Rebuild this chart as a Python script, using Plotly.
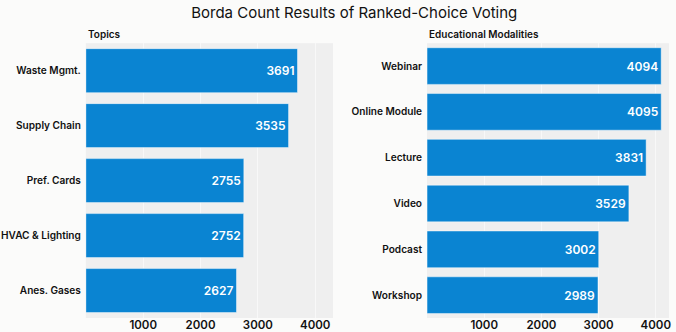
import plotly.graph_objects as go

topics = ["Waste Mgmt.", "Supply Chain", "Pref. Cards", "HVAC & Lighting", "Anes. Gases"]
topic_scores = [3691, 3535, 2755, 2752, 2627]

modalities = ["Webinar", "Online Module", "Lecture", "Video", "Podcast", "Workshop"]
modality_scores = [4094, 4095, 3831, 3529, 3002, 2989]

tick_vals = [1000, 2000, 3000, 4000]
tick_text = ["1000", "2000", "3000", "4000"]

BAR = "#0a84d2"
FONT = "Inter"

fig = go.Figure()
fig.add_trace(go.Bar(
    x=topic_scores, y=topics, orientation="h", xaxis="x", yaxis="y",
    marker=dict(color=BAR, line=dict(color="rgba(255,255,255,0.45)", width=1)),
    text=[str(v) for v in topic_scores], textposition="inside", insidetextanchor="end",
    textfont=dict(color="white", size=12, family=FONT, weight=600),
    hoverinfo="x+y", showlegend=False,
))
fig.add_trace(go.Bar(
    x=modality_scores, y=modalities, orientation="h", xaxis="x2", yaxis="y2",
    marker=dict(color=BAR, line=dict(color="rgba(255,255,255,0.45)", width=1)),
    text=[str(v) for v in modality_scores], textposition="inside", insidetextanchor="end",
    textfont=dict(color="white", size=12, family=FONT, weight=600),
    hoverinfo="x+y", showlegend=False,
))

ydom = [0.042, 0.870]
axis_common = dict(
    tickvals=tick_vals, ticktext=tick_text, showgrid=True, gridcolor="#f8f8f8",
    gridwidth=1, zeroline=False, showline=False, ticks="", automargin=False,
    ticklabelstandoff=-2,
    tickfont=dict(size=11.5, family=FONT, color="#111", weight=600),
)
yaxis_common = dict(
    autorange="reversed", showgrid=False, zeroline=False, showline=False,
    ticks="", automargin=False, ticklabelstandoff=4,
    tickfont=dict(size=10.1, family=FONT, color="#111", weight=600),
)

fig.update_layout(
    width=676, height=332,
    margin=dict(l=0, r=0, t=0, b=0),
    paper_bgcolor="#fbfbfa", plot_bgcolor="#efefef",
    bargap=0.2,
    font=dict(family=FONT, color="#111"),
    title=dict(text="Borda Count Results of Ranked-Choice Voting", x=0.524, xanchor="center",
               y=0.963, yanchor="middle", yref="container",
               font=dict(size=15, family=FONT, color="#111")),
    xaxis=dict(domain=[0.127, 0.4926], range=[0, 4310], anchor="y", **axis_common),
    yaxis=dict(domain=ydom, anchor="x", **yaxis_common),
    xaxis2=dict(domain=[0.6317, 0.9896], range=[0, 4230], anchor="y2", **axis_common),
    yaxis2=dict(domain=ydom, anchor="x2", **yaxis_common),
    annotations=[
        dict(text="Topics", x=0.127, y=0.872, xref="paper", yref="paper",
             xanchor="left", yanchor="bottom", showarrow=False,
             font=dict(size=10, family=FONT, color="#111", weight=600)),
        dict(text="Educational Modalities", x=0.6317, y=0.872, xref="paper", yref="paper",
             xanchor="left", yanchor="bottom", showarrow=False,
             font=dict(size=10, family=FONT, color="#111", weight=600)),
    ],
)

fig.write_html(
    "out.html",
    config={"displayModeBar": False},
    post_script="document.body.style.margin='0';document.body.style.overflow='hidden';",
)
